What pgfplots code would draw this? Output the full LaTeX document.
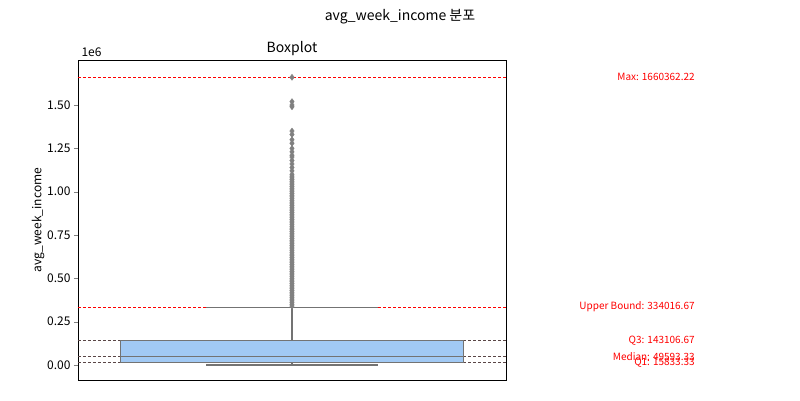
\documentclass[border=0pt]{standalone}
\usepackage{pgfplots}
\pgfplotsset{compat=1.18}
\usepgfplotslibrary{statistics}
\usepackage{fontspec}
\setmainfont{Noto Sans CJK KR}
\definecolor{boxblue}{RGB}{161,201,244}
\definecolor{qline}{RGB}{90,70,70}
\begin{document}
\begin{tikzpicture}
\begin{axis}[name=ax, scale only axis, width=428pt, height=320pt,
  xmin=-0.5, xmax=0.5, ymin=-0.0866, ymax=1.76,
  xtick=\empty, ytick={0,0.25,0.5,0.75,1,1.25,1.5}, ytick pos=left,
  yticklabels={0.00,0.25,0.50,0.75,1.00,1.25,1.50},
  font=\fontsize{12}{14}\selectfont,
  ylabel={avg\_week\_income}, ylabel style={yshift=-4pt},
  title={Boxplot}, title style={yshift=-5pt,font=\fontsize{14}{16}\selectfont},
  clip=false, tick align=outside, major tick length=4pt,
  boxplot/draw direction=y]
\addplot[red, dash pattern=on 3pt off 2pt] coordinates {(-0.5,1.66036) (0.5,1.66036)};
\addplot[red, dash pattern=on 3pt off 2pt] coordinates {(-0.5,0.334017) (0.5,0.334017)};
\addplot[qline, dash pattern=on 3pt off 2pt, thin] coordinates {(-0.5,0.143107) (0.5,0.143107)};
\addplot[qline, dash pattern=on 3pt off 2pt, thin] coordinates {(-0.5,0.049593) (0.5,0.049593)};
\addplot[qline, dash pattern=on 3pt off 2pt, thin] coordinates {(-0.5,0.015833) (0.5,0.015833)};
\addplot+[boxplot prepared={draw position=0, lower whisker=0, lower quartile=0.015833,
  median=0.049593, upper quartile=0.143107, upper whisker=0.334017,
  box extend=0.8, whisker extend=0.4},
  draw=gray!90!black, fill=boxblue, line width=1.2pt, solid, mark=none] coordinates {};
\addplot[only marks, mark=diamond*, mark size=3pt, color=gray, fill=gray] coordinates {
(0,0.34)(0,0.35)(0,0.36)(0,0.37)(0,0.38)(0,0.39)(0,0.40)(0,0.41)(0,0.42)(0,0.43)
(0,0.44)(0,0.45)(0,0.46)(0,0.47)(0,0.48)(0,0.49)(0,0.50)(0,0.51)(0,0.52)(0,0.53)
(0,0.54)(0,0.55)(0,0.56)(0,0.57)(0,0.58)(0,0.59)(0,0.60)(0,0.61)(0,0.62)(0,0.63)
(0,0.64)(0,0.65)(0,0.66)(0,0.67)(0,0.68)(0,0.69)(0,0.70)(0,0.71)(0,0.72)(0,0.73)
(0,0.74)(0,0.75)(0,0.76)(0,0.77)(0,0.78)(0,0.79)(0,0.80)(0,0.81)(0,0.82)(0,0.83)
(0,0.84)(0,0.85)(0,0.86)(0,0.87)(0,0.88)(0,0.89)(0,0.90)(0,0.91)(0,0.92)(0,0.93)
(0,0.94)(0,0.95)(0,0.96)(0,0.97)(0,0.98)(0,0.99)(0,1.00)(0,1.01)(0,1.02)(0,1.03)
(0,1.04)(0,1.05)(0,1.06)(0,1.07)(0,1.08)(0,1.09)(0,1.10)(0,1.12)(0,1.14)(0,1.16)
(0,1.18)(0,1.20)(0,1.21)(0,1.23)(0,1.25)(0,1.28)(0,1.30)(0,1.33)(0,1.35)
(0,1.49)(0,1.50)(0,1.52)(0,1.66)};
\node[anchor=east, red, font=\fontsize{10}{12}\selectfont] at (axis cs:0.949,1.66036) {Max: 1660362.22};
\node[anchor=east, red, font=\fontsize{10}{12}\selectfont] at (axis cs:0.949,0.334017) {Upper Bound: 334016.67};
\node[anchor=east, red, font=\fontsize{10}{12}\selectfont] at (axis cs:0.949,0.143107) {Q3: 143106.67};
\node[anchor=east, red, font=\fontsize{10}{12}\selectfont] at (axis cs:0.949,0.049593) {Median: 49593.33};
\node[anchor=east, red, font=\fontsize{10}{12}\selectfont] at (axis cs:0.949,0.015833) {Q1: 15833.33};
\node[anchor=south west, font=\fontsize{12}{14}\selectfont] at (rel axis cs:0,1) {1e6};
\end{axis}
\node[font=\fontsize{14}{16}\selectfont] at ([shift={(322pt,363pt)}]ax.south west) {avg\_week\_income 분포};
\path[use as bounding box] ([shift={(-78pt,-20pt)}]ax.south west) rectangle ([shift={(722pt,380pt)}]ax.south west);
\end{tikzpicture}
\end{document}
